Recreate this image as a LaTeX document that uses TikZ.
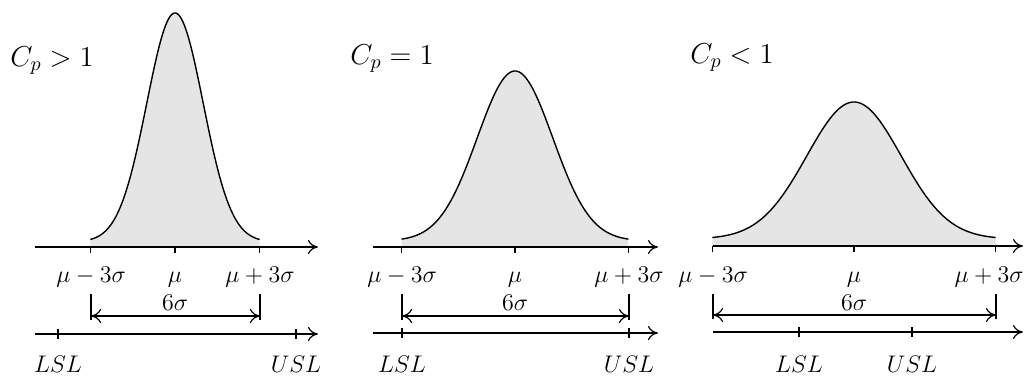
\documentclass[tikz,border=0pt]{standalone}
\usetikzlibrary{arrows.meta}
\begin{document}
\begin{tikzpicture}[x=0.5pt,y=-0.5pt,
  ax/.style={line width=0.6pt,-{Computer Modern Rightarrow[length=5pt,width=7pt]}},
  dim/.style={line width=0.6pt,{Computer Modern Rightarrow[length=5pt,width=7pt]}-{Computer Modern Rightarrow[length=5pt,width=7pt]}},
  thin/.style={line width=0.6pt},
  curve/.style={line width=0.7pt},
  shade/.style={fill=black!10,draw=none},
  lbl/.style={inner sep=0pt,anchor=base,font=\fontsize{13}{15}\selectfont},
  ttl/.style={inner sep=0pt,anchor=base west,font=\fontsize{14.5}{17}\selectfont}]
\useasboundingbox (0,0) rectangle (1025,376);

% #1 name prefix, #2 mu, #3 sigma, #4 curve base, #5 height, #6 axis y, #7 axis left, #8 axis right
\newcommand{\bellpanel}[8]{%
  \fill[shade] plot[domain=-3:3,samples=120] ({#2+#3*\x},{#4-#5*exp(-(\x*\x)/2)}) -- ({#2+3*#3},#6) -- ({#2-3*#3},#6) -- cycle;
  \draw[curve] plot[domain=-3:3,samples=120] ({#2+#3*\x},{#4-#5*exp(-(\x*\x)/2)});
  \coordinate (#1axL) at (#7,#6);
  \coordinate (#1axR) at (#8,#6);
  \draw[ax] (#1axL) -- (#1axR);
  \foreach \k in {-3,0,3} {\draw[thin] ({#2+\k*#3},#6) -- ++(0,6);}
}

% Panel 1
\bellpanel{a}{175}{28.2}{242}{229}{247}{35}{318}
% Panel 2
\bellpanel{b}{515}{37.8}{241}{170}{247}{373}{658}
% Panel 3
\bellpanel{c}{854}{47.2}{239}{137}{246}{713}{1023}

% titles
\node[ttl] (t1) at (10,66) {$C_p>1$};
\node[ttl] (t2) at (350,64) {$C_p=1$};
\node[ttl] (t3) at (690,63) {$C_p<1$};

% labels under top axes
\node[lbl] (a1) at (91,282) {$\mu-3\sigma$};
\node[lbl] (a2) at (175,282) {$\mu$};
\node[lbl] (a3) at (260,282) {$\mu+3\sigma$};
\node[lbl] (b1) at (402,282) {$\mu-3\sigma$};
\node[lbl] (b2) at (515,282) {$\mu$};
\node[lbl] (b3) at (629,282) {$\mu+3\sigma$};
\node[lbl] (c1) at (713,282) {$\mu-3\sigma$};
\node[lbl] (c2) at (854,282) {$\mu$};
\node[lbl,anchor=base east] (c3) at (1024,282) {$\mu+3\sigma$};

% 6 sigma brackets
\foreach \p/\l/\r/\y in {a/91/260/316, b/402/629/316, c/713/996/315} {
  \coordinate (\p sL) at (\l,\y);
  \coordinate (\p sR) at (\r,\y);
  \coordinate (\p sLt) at (\l,294);
  \coordinate (\p sRt) at (\r,294);
  \draw[thin] (\p sLt) -- ([yshift=-2]\p sL);
  \draw[thin] (\p sRt) -- ([yshift=-2]\p sR);
  \draw[dim] (\p sL) -- (\p sR);
}
\node[lbl] (a6) at (175,310) {$6\sigma$};
\node[lbl] (b6) at (515,310) {$6\sigma$};
\node[lbl] (c6) at (854,310) {$6\sigma$};

% bottom axes
\foreach \p/\l/\r/\y/\ls/\us in {a/35/318/334/58/296, b/373/658/333/402/629, c/713/1023/332/799/912} {
  \coordinate (\p bL) at (\l,\y);
  \coordinate (\p bR) at (\r,\y);
  \draw[ax] (\p bL) -- (\p bR);
  \draw[thin] (\ls,\y-5) -- (\ls,\y+5);
  \draw[thin] (\us,\y-5) -- (\us,\y+5);
}
\node[lbl] (aL) at (58,372) {$LSL$};
\node[lbl] (aU) at (296,372) {$USL$};
\node[lbl] (bL) at (402,372) {$LSL$};
\node[lbl] (bU) at (629,372) {$USL$};
\node[lbl] (cL) at (799,372) {$LSL$};
\node[lbl] (cU) at (912,372) {$USL$};
\end{tikzpicture}
\end{document}
